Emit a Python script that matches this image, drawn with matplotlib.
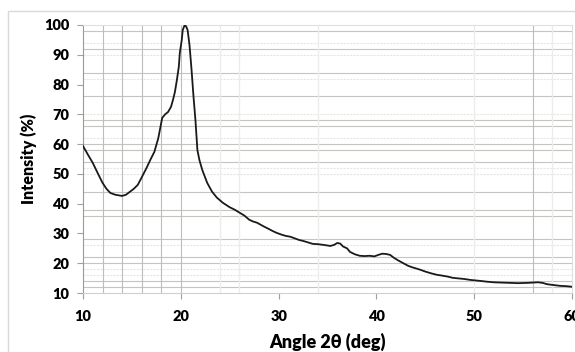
import matplotlib
matplotlib.use("Agg")
import matplotlib.pyplot as plt
from matplotlib.patches import Rectangle

# XRD pattern
angle = [10.0, 10.5, 11.0, 11.5, 12.0, 12.4, 12.8, 13.3, 14.0, 14.4, 14.8, 15.2, 15.6, 16.0,
         16.5, 16.9, 17.3, 17.7, 18.1, 18.4, 18.7, 19.0, 19.2, 19.4, 19.6, 19.8, 19.9, 20.1,
         20.2, 20.4, 20.55, 20.7, 20.9, 21.1, 21.3, 21.5, 21.7, 21.9, 22.2, 22.7, 23.2, 23.7,
         24.3, 25.0, 25.5, 26.0, 26.5, 27.0, 27.4, 27.8, 28.4, 29.0, 29.4, 29.8, 30.3, 30.7,
         31.2, 31.7, 32.1, 32.5, 33.0, 33.5, 34.0, 34.5, 34.9, 35.3, 35.7, 36.0, 36.3, 36.6,
         37.0, 37.3, 37.8, 38.3, 38.8, 39.3, 39.8, 40.2, 40.6, 41.0, 41.4, 41.8, 42.2, 42.7,
         43.2, 43.6, 44.0, 44.5, 45.0, 45.6, 46.2, 46.8, 47.3, 47.8, 48.4, 49.0, 49.6, 50.2,
         50.8, 51.3, 52.0, 52.8, 53.7, 54.5, 55.4, 56.0, 56.5, 57.0, 57.4, 57.8, 58.3, 58.8,
         59.4, 60.0]
intensity = [59.4, 56.5, 53.7, 50.3, 47.0, 45.0, 43.6, 43.0, 42.6, 43.0, 44.0, 45.0, 46.3, 48.8,
             52.0, 54.8, 57.4, 62.0, 68.8, 70.0, 70.8, 72.5, 74.8, 77.5, 81.5, 86.0, 90.6, 95.0,
             98.3, 100.0, 99.5, 98.3, 93.0, 85.0, 76.0, 68.0, 58.0, 54.7, 51.3, 47.0, 44.0, 42.0,
             40.3, 38.8, 38.0, 37.0, 36.0, 34.6, 34.0, 33.6, 32.5, 31.5, 30.8, 30.2, 29.6, 29.2,
             28.9, 28.3, 27.8, 27.5, 27.0, 26.5, 26.4, 26.2, 26.0, 25.8, 26.2, 26.8, 26.6, 25.6,
             25.0, 23.8, 23.0, 22.5, 22.4, 22.5, 22.3, 22.8, 23.2, 23.1, 22.8, 21.8, 21.0, 20.1,
             19.2, 18.7, 18.3, 17.8, 17.2, 16.6, 16.1, 15.8, 15.5, 15.1, 14.9, 14.7, 14.4, 14.2,
             14.0, 13.8, 13.6, 13.5, 13.4, 13.3, 13.4, 13.5, 13.6, 13.4, 13.0, 12.8, 12.6, 12.4,
             12.3, 12.1]

x_ticks = [10, 20, 30, 40, 50, 60]
y_ticks = [10, 20, 30, 40, 50, 60, 70, 80, 90, 100]

# the scanned chart carries a messy grid, roughly every 2 units
h_strong = [98, 92, 84, 76, 68, 66, 60, 58, 54, 44, 38, 36, 28, 22, 20, 14, 12]
h_faint = [94, 90, 82, 70, 62, 52, 50, 26, 18, 16]
v_strong = [12, 14, 16, 18, 20, 56]
v_faint = [24, 26, 34, 50, 58]

plt.rcParams['font.family'] = ['Lato', 'DejaVu Sans']

fig = plt.figure(figsize=(5.75, 3.52), dpi=100)
ax = fig.add_axes([0.1443, 0.1676, 0.8505, 0.7614])

# outer chart border
fig.patches.append(Rectangle((8 / 575, -0.1), 1.2, 1 - 11 / 352 + 0.1,
                             transform=fig.transFigure, fill=False,
                             edgecolor='#d9d9d9', lw=1.0, zorder=0))

for y in h_strong:
    ax.axhline(y, color='#c4c4c0', lw=0.8, zorder=1)
for y in h_faint:
    ax.axhline(y, color='#e6e6e6', lw=0.8, ls=(0, (2, 1)), zorder=1)
for x in v_strong:
    ax.axvline(x, color='#bdbdbd', lw=0.8, zorder=1)
for x in v_faint:
    ax.axvline(x, color='#ececec', lw=1.0, zorder=1)

ax.plot(angle, intensity, color='#1a1a1a', lw=1.3, zorder=3)

ax.set_xlim(10, 60)
ax.set_ylim(10, 100)
ax.set_xticks(x_ticks)
ax.set_yticks(y_ticks)
ax.tick_params(axis='both', colors='#a0a0a0', labelcolor='black', labelsize=10.5, length=4, width=0.8)
ax.tick_params(axis='x', pad=8)
ax.tick_params(axis='y', pad=6)
for lab in ax.get_xticklabels() + ax.get_yticklabels():
    lab.set_fontweight('heavy')

ax.spines['left'].set_color('#9a9a9a')
ax.spines['bottom'].set_color('#d0d0d0')
ax.spines['top'].set_color('#e0e0e0')
ax.spines['right'].set_color('#e0e0e0')
for s in ax.spines.values():
    s.set_linewidth(0.8)

ax.set_xlabel("Angle 2θ (deg)", fontsize=13, fontweight='heavy', labelpad=7)
ax.set_ylabel("Intensity (%)", fontsize=11.5, fontweight='heavy')
ax.yaxis.set_label_coords(-0.095, 0.5)

fig.savefig("out.png", dpi=100)
